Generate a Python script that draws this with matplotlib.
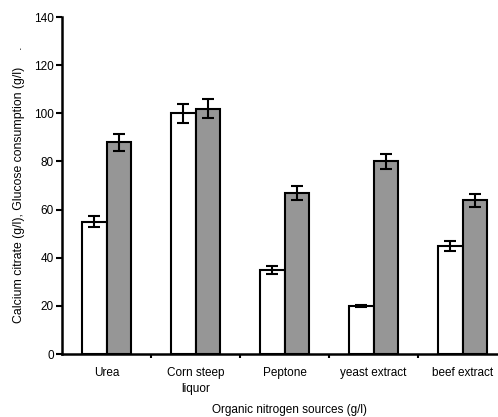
import numpy as np
import matplotlib
matplotlib.use("Agg")
import matplotlib.pyplot as plt

plt.rcParams['font.family'] = ['Liberation Sans', 'DejaVu Sans']

sources = ["Urea", "Corn steep\nliquor", "Peptone", "yeast extract", "beef extract"]
citrate = [55, 100, 35, 20, 45]
citrate_err = [2.4, 4, 1.7, 0.5, 2]
glucose = [88, 102, 67, 80, 64]
glucose_err = [3.5, 4, 3, 3.3, 2.7]

fig = plt.figure(figsize=(4.98, 4.17), dpi=100)
ax = fig.add_axes([0.1245, 0.151, 0.8936, 0.808])

x = np.arange(len(sources))
w = 0.28
err_kw = dict(ecolor="black", elinewidth=1.5, capsize=4.5, capthick=1.5)
ax.bar(x - w / 2, citrate, w, yerr=citrate_err, color="white",
       edgecolor="black", linewidth=1.5, error_kw=err_kw, zorder=2)
ax.bar(x + w / 2, glucose, w, yerr=glucose_err, color="#969696",
       edgecolor="black", linewidth=1.5, error_kw=err_kw, zorder=2)

ax.set_xlim(-0.5, len(sources) - 0.5)
ax.set_ylim(0, 140)
ax.set_yticks(range(0, 141, 20))

# category labels between boundary ticks
ax.set_xticks(x + 0.5)
ax.set_xticklabels([])
ax.set_xticks(x, minor=True)
ax.set_xticklabels(sources, minor=True, fontsize=8.5, linespacing=1.45)
ax.tick_params(axis="x", which="minor", length=0, pad=9)
ax.tick_params(axis="x", which="major", length=3, width=1.5, direction="out")
ax.tick_params(axis="y", length=4, width=1.5, labelsize=8.5, pad=2)

for side in ["top", "right"]:
    ax.spines[side].set_visible(False)
for side in ["left", "bottom"]:
    ax.spines[side].set_linewidth(1.8)

ax.set_ylabel("Calcium citrate (g/l), Glucose consumption (g/l)     .", fontsize=8.8)
ax.yaxis.set_label_coords(-0.084, 0.503)
ax.set_xlabel("Organic nitrogen sources (g/l)", fontsize=8.5)
ax.xaxis.set_label_coords(0.512, -0.147)

fig.savefig("out.png", dpi=100)
